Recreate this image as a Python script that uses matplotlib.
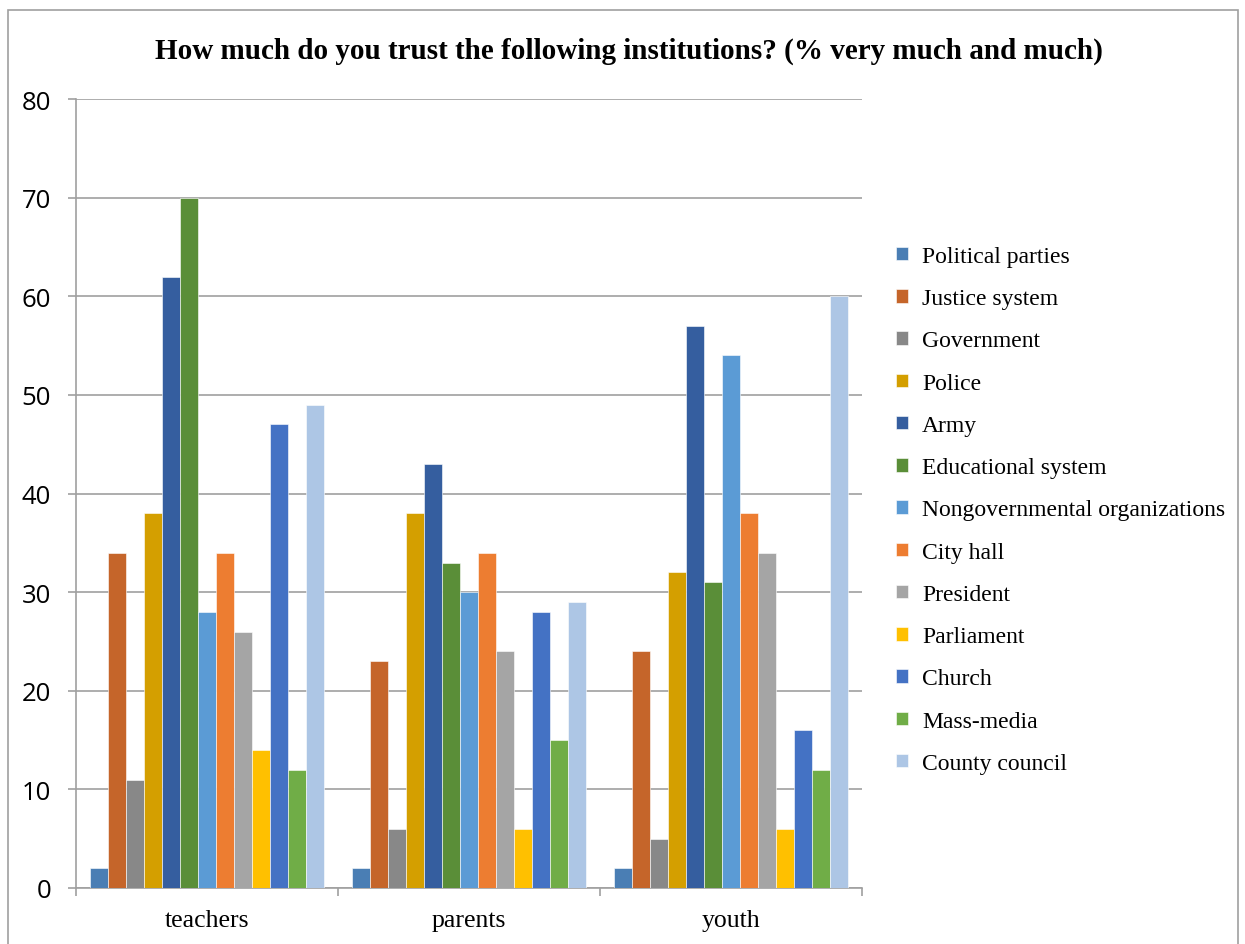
import numpy as np
import matplotlib.pyplot as plt
from matplotlib.patches import Rectangle

# -- data
groups = ['teachers', 'parents', 'youth']
series = ['Political parties', 'Justice system', 'Government', 'Police', 'Army',
          'Educational system', 'Nongovernmental organizations', 'City hall',
          'President', 'Parliament', 'Church', 'Mass-media', 'County council']
teachers = [2, 34, 11, 38, 62, 70, 28, 34, 26, 14, 47, 12, 49]
parents = [2, 23, 6, 38, 43, 33, 30, 34, 24, 6, 28, 15, 29]
youth = [2, 24, 5, 32, 57, 31, 54, 38, 34, 6, 16, 12, 60]
colors = ['#4A7EB4', '#C5652A', '#888888', '#D49F00', '#355E9F', '#5A8E38',
          '#5B9BD5', '#ED7D31', '#A5A5A5', '#FFC000', '#4472C4', '#70AD47',
          '#ADC6E5']

values = np.array([teachers, parents, youth])

fig = plt.figure(figsize=(12.45, 9.45), dpi=100)
ax = fig.add_axes([76/1245, 1 - 889/945, (862-76)/1245, (889-100)/945])

n = len(series)
x = np.arange(len(groups))
group_w = 0.893
bw = group_w / n
for i in range(n):
    ax.bar(x - group_w/2 + bw*(i + 0.5), values[:, i], width=bw,
           color=colors[i], edgecolor='white', linewidth=0.4, label=series[i],
           zorder=3)

ax.set_xlim(-0.5, len(groups) - 0.5)
ax.set_ylim(0, 80)
ax.set_yticks(range(0, 81, 10))
ax.yaxis.grid(True, color='#A0A0A0', linewidth=1.2, zorder=0)
ax.set_axisbelow(True)

for s in ['top', 'right']:
    ax.spines[s].set_visible(False)
ax.spines['left'].set_color('#A0A0A0')
ax.spines['bottom'].set_color('#A0A0A0')
ax.spines['left'].set_linewidth(1.2)
ax.spines['bottom'].set_linewidth(1.2)

ax.set_xticks(x)
ax.set_xticklabels(groups, family='Liberation Serif', fontsize=18.5)
ax.tick_params(axis='x', length=0, pad=15)
ax.set_xticks(np.arange(-0.5, len(groups)), minor=True)
ax.tick_params(axis='x', which='minor', length=6, color='#A0A0A0', width=1.2)
ax.tick_params(axis='y', length=6, color='#A0A0A0', width=1.2, pad=12,
               labelsize=18.5)
for lab in ax.get_yticklabels():
    lab.set_family('Open Sans')

fig.text(0.5 + 0.005, 1 - 51/945, 'How much do you trust the following institutions? (% very much and much)',
         ha='center', va='center', family='Liberation Serif', fontweight='bold',
         fontsize=21)

ax.legend(loc='center left', bbox_to_anchor=(896/1245, 1 - 511/945),
          bbox_transform=fig.transFigure, frameon=False,
          prop={'family': 'Liberation Serif', 'size': 17},
          handlelength=0.5, handleheight=0.5, handletextpad=0.6,
          labelspacing=0.9, borderaxespad=0, borderpad=0)

fig.patches.append(Rectangle((8/1245, -0.01), (1238-8)/1245, 1 - 11/945 + 0.01,
                             transform=fig.transFigure, fill=False,
                             edgecolor='#A0A0A0', linewidth=1.2))

fig.savefig('out.png', dpi=100)
plt.close()
